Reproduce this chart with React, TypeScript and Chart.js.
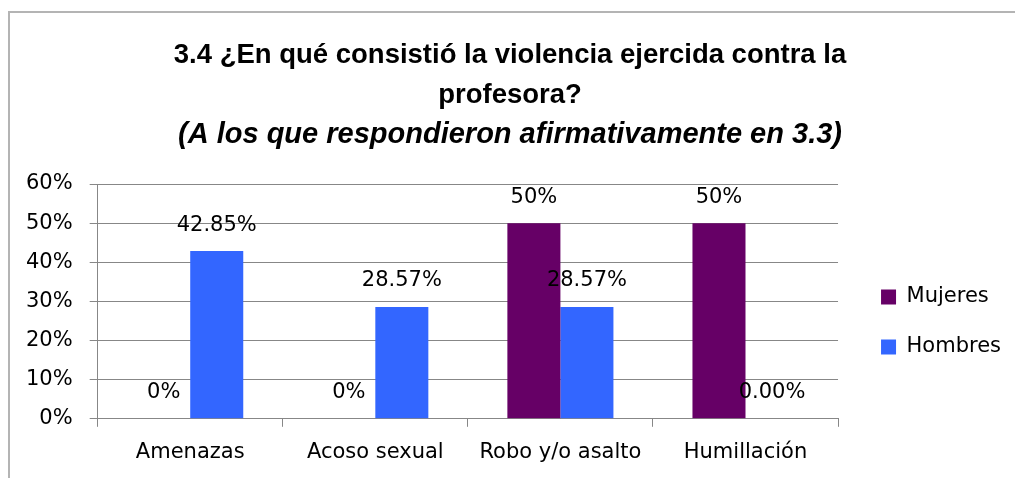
import React, { useEffect, useRef } from "react";
import { Chart, registerables } from "chart.js";

Chart.register(...registerables);

const categories = ["Amenazas", "Acoso sexual", "Robo y/o asalto", "Humillación"];
const mujeresValues = [0, 0, 50, 50];
const hombresValues = [42.85, 28.57, 28.57, 0];
const mujeresLabels = ["0%", "0%", "50%", "50%"];
const hombresLabels = ["42.85%", "28.57%", "28.57%", "0.00%"];
const yTicks = [0, 10, 20, 30, 40, 50, 60];
const titleLines = ["3.4 ¿En qué consistió la violencia ejercida contra la", "profesora?"];
const subtitleText = "(A los que respondieron afirmativamente en 3.3)";

const FONT = "'DejaVu Sans', sans-serif";
const TITLE_FONT = "'Liberation Sans', Arial, sans-serif";
const GRID = "#878787";

const dataLabelPlugin = {
  id: "dataLabels",
  afterDatasetsDraw(chart: any) {
    const ctx = chart.ctx;
    const labelSets = [mujeresLabels, hombresLabels];
    ctx.save();
    ctx.font = `21px ${FONT}`;
    ctx.fillStyle = "#000";
    ctx.textAlign = "center";
    ctx.textBaseline = "middle";
    chart.data.datasets.forEach((_ds: any, di: number) => {
      const meta = chart.getDatasetMeta(di);
      meta.data.forEach((el: any, i: number) => {
        ctx.fillText(labelSets[di][i], el.x, el.y - 26);
      });
    });
    ctx.restore();
  },
};

export default function App() {
  const ref = useRef<HTMLCanvasElement | null>(null);
  useEffect(() => {
    if (!ref.current) return;
    const chart = new Chart(ref.current, {
      type: "bar",
      data: {
        labels: categories,
        datasets: [
          {
            label: "Mujeres",
            data: mujeresValues,
            backgroundColor: "#660066",
            borderWidth: 0,
            categoryPercentage: 0.573,
            barPercentage: 1,
          },
          {
            label: "Hombres",
            data: hombresValues,
            backgroundColor: "#3366FF",
            borderWidth: 0,
            categoryPercentage: 0.573,
            barPercentage: 1,
          },
        ],
      },
      options: {
        responsive: false,
        animation: false,
        layout: { padding: { left: 9, right: 4, top: 0, bottom: 0 } },
        plugins: {
          title: {
            display: true,
            text: titleLines,
            color: "#000",
            font: { family: TITLE_FONT, size: 27.5, weight: "bold", lineHeight: 40 / 27.5 },
            padding: { top: 35, bottom: 0 },
          },
          subtitle: {
            display: true,
            text: subtitleText,
            color: "#000",
            font: { family: TITLE_FONT, size: 29, weight: "bold", style: "italic", lineHeight: 40 / 29 },
            padding: { top: 0, bottom: 29 },
          },
          legend: {
            position: "right",
            title: {
              display: true,
              text: " ",
              font: { size: 10, lineHeight: 1.2 },
              padding: { top: 154, bottom: 0 },
            },
            labels: {
              boxWidth: 15,
              boxHeight: 15,
              padding: 29,
              color: "#000",
              font: { family: FONT, size: 21 },
            },
          },
          tooltip: { enabled: false },
        },
        scales: {
          x: {
            offset: true,
            grid: {
              display: true,
              drawOnChartArea: false,
              drawTicks: true,
              tickLength: 8,
              color: GRID,
              offset: true,
            },
            border: { display: true, color: GRID },
            ticks: { color: "#000", font: { family: FONT, size: 21 }, padding: 13 },
          },
          y: {
            min: yTicks[0],
            max: yTicks[yTicks.length - 1],
            afterBuildTicks: (scale: any) => {
              scale.ticks = yTicks.map((v) => ({ value: v }));
            },
            grid: { color: GRID, tickLength: 8 },
            border: { display: true, color: GRID },
            ticks: {
              color: "#000",
              font: { family: FONT, size: 21 },
              padding: 17,
              callback: (v: any) => v + "%",
            },
          },
          y2: {
            position: "right",
            display: true,
            grid: { display: false },
            border: { display: false },
            ticks: { display: false },
            afterFit: (scale: any) => {
              scale.width = 14;
            },
          },
        },
      },
      plugins: [dataLabelPlugin],
    });
    return () => chart.destroy();
  }, []);

  return (
    <div
      style={{
        position: "fixed",
        left: 0,
        top: 0,
        width: 1015,
        height: 478,
        overflow: "hidden",
        background: "#fff",
      }}
    >
      <div
        style={{
          position: "absolute",
          left: 8,
          top: 11,
          width: 1200,
          height: 700,
          border: "2px solid #b4b4b4",
        }}
      />
      <canvas ref={ref} width={1015} height={478} style={{ position: "absolute", left: 0, top: 0 }} />
    </div>
  );
}
